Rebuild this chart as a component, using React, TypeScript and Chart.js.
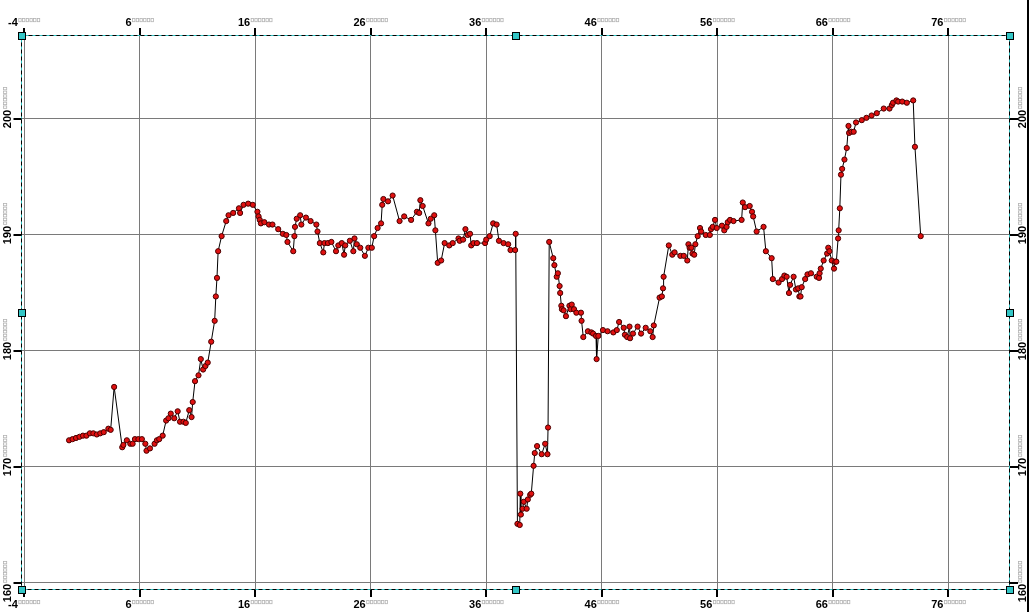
import React, { useEffect, useRef } from "react";
import { Chart, registerables } from "chart.js";

Chart.register(...registerables);

const X_VALUES: number[] = [
  -0.1, 0.2, 0.5, 0.8, 1.1, 1.4, 1.7, 2.0, 2.3, 2.6, 2.9, 3.3, 3.5, 3.8, 4.5, 4.6, 4.9, 5.2, 5.4, 5.6,
  5.9, 6.2, 6.5, 6.6, 6.9, 7.3, 7.5, 7.7, 8.0, 8.3, 8.5, 8.7, 9.0, 9.3, 9.5, 9.8, 10.0, 10.3, 10.5, 10.6,
  10.8, 11.1, 11.3, 11.5, 11.7, 11.9, 12.2, 12.5, 12.6, 12.7, 12.8, 13.1, 13.5, 13.7, 14.1, 14.6, 14.7, 15.0, 15.4, 15.8,
  16.2, 16.3, 16.4, 16.5, 16.8, 17.2, 17.5, 18.0, 18.4, 18.7, 18.8, 19.3, 19.4, 19.45, 19.6, 19.9, 20.0, 20.4, 20.8, 21.3,
  21.4, 21.6, 21.9, 22.0, 22.3, 22.6, 23.0, 23.2, 23.5, 23.7, 23.8, 24.2, 24.5, 24.6, 24.8, 25.1, 25.5, 25.8, 26.1, 26.3,
  26.6, 26.9, 27.0, 27.1, 27.5, 27.9, 28.5, 28.9, 29.5, 30.0, 30.2, 30.3, 30.5, 31.0, 31.2, 31.5, 31.6, 31.8, 32.1, 32.4,
  32.8, 33.1, 33.6, 33.7, 34.0, 34.2, 34.4, 34.6, 34.7, 34.9, 35.2, 35.9, 36.0, 36.3, 36.6, 36.9, 37.1, 37.5, 37.9, 38.1,
  38.5, 38.55, 38.7, 38.9, 38.95, 39.0, 39.15, 39.25, 39.5, 39.6, 39.8, 39.9, 40.1, 40.2, 40.4, 40.8, 41.1, 41.3, 41.35, 41.45,
  41.8, 41.9, 42.1, 42.2, 42.35, 42.4, 42.5, 42.55, 42.7, 42.9, 43.2, 43.3, 43.4, 43.6, 43.8, 44.2, 44.25, 44.4, 44.8, 45.1,
  45.25, 45.5, 45.55, 45.7, 46.1, 46.5, 47.0, 47.3, 47.5, 47.9, 48.0, 48.2, 48.4, 48.45, 48.7, 49.1, 49.4, 49.8, 50.2, 50.4,
  50.5, 51.0, 51.2, 51.3, 51.35, 51.8, 52.1, 52.3, 52.8, 53.1, 53.4, 53.5, 53.6, 53.75, 53.85, 54.0, 54.1, 54.3, 54.5, 54.6,
  55.0, 55.35, 55.45, 55.6, 55.8, 55.95, 56.4, 56.6, 56.8, 56.9, 57.1, 57.4, 58.1, 58.2, 58.4, 58.8, 59.0, 59.1, 59.4, 60.0,
  60.2, 60.7, 60.8, 61.3, 61.6, 61.8, 62.0, 62.2, 62.3, 62.6, 62.8, 63.0, 63.1, 63.2, 63.3, 63.6, 63.8, 64.1, 64.6, 64.8,
  64.85, 64.95, 65.2, 65.5, 65.6, 65.7, 65.9, 66.1, 66.2, 66.3, 66.45, 66.5, 66.6, 66.7, 66.8, 67.0, 67.2, 67.35, 67.4, 67.6,
  67.8, 68.0, 68.5, 68.9, 69.35, 69.8, 70.4, 70.9, 71.1, 71.2, 71.5, 71.65, 72.0, 72.4, 72.95, 73.1, 73.6,
];

const Y_VALUES: number[] = [
  172.3, 172.4, 172.5, 172.6, 172.7, 172.7, 172.9, 172.9, 172.8, 172.9, 173.0, 173.3, 173.2, 176.9, 171.7, 171.9, 172.3, 172.0, 172.0, 172.4,
  172.4, 172.4, 172.0, 171.4, 171.6, 172.0, 172.3, 172.4, 172.7, 174.0, 174.2, 174.6, 174.2, 174.8, 173.9, 173.9, 173.8, 174.9, 174.3, 175.6,
  177.4, 177.9, 179.3, 178.4, 178.7, 179.0, 180.8, 182.6, 184.7, 186.3, 188.6, 189.9, 191.2, 191.7, 191.9, 192.3, 191.9, 192.6, 192.7, 192.6,
  192.0, 191.6, 191.3, 191.0, 191.1, 190.9, 190.9, 190.5, 190.1, 190.0, 189.4, 188.6, 189.9, 190.7, 191.4, 191.7, 190.9, 191.5, 191.2, 190.9,
  190.3, 189.3, 188.5, 189.3, 189.3, 189.4, 188.6, 189.1, 189.3, 188.3, 189.1, 189.5, 188.6, 189.7, 189.2, 188.9, 188.2, 188.9, 188.9, 189.9,
  190.6, 191.0, 192.6, 193.1, 192.9, 193.4, 191.2, 191.6, 191.3, 192.0, 191.9, 193.0, 192.5, 191.0, 191.4, 191.7, 190.4, 187.6, 187.8, 189.3,
  189.1, 189.3, 189.7, 189.5, 189.6, 190.5, 190.0, 190.1, 189.1, 189.3, 189.3, 189.3, 189.6, 189.9, 191.0, 190.9, 189.5, 189.3, 189.2, 188.7,
  188.7, 190.1, 165.1, 165.0, 167.7, 165.9, 166.4, 167.0, 166.4, 167.2, 167.6, 167.7, 170.1, 171.2, 171.8, 171.1, 172.0, 171.1, 173.4, 189.4,
  188.0, 187.4, 186.4, 186.7, 185.6, 185.0, 183.9, 183.6, 183.5, 183.0, 183.9, 183.6, 184.0, 183.6, 183.3, 183.3, 182.6, 181.2, 181.7, 181.6,
  181.5, 181.3, 179.3, 181.3, 181.8, 181.7, 181.6, 181.8, 182.5, 182.0, 181.4, 181.2, 182.1, 181.1, 181.5, 182.1, 181.5, 182.0, 181.7, 181.2,
  182.2, 184.6, 184.7, 185.4, 186.4, 189.1, 188.3, 188.5, 188.2, 188.2, 187.8, 189.2, 188.9, 188.9, 188.4, 188.3, 189.2, 189.9, 190.6, 190.3,
  190.0, 190.0, 190.5, 190.7, 191.3, 190.6, 190.8, 190.4, 190.7, 191.1, 191.3, 191.2, 191.3, 192.8, 192.4, 192.5, 192.0, 191.6, 190.3, 190.7,
  188.6, 188.0, 186.2, 185.9, 186.2, 186.5, 186.4, 185.0, 185.7, 186.4, 185.3, 185.4, 184.7, 184.7, 185.5, 186.2, 186.6, 186.7, 186.4, 186.3,
  186.7, 187.1, 187.8, 188.4, 188.9, 188.6, 187.8, 187.1, 187.7, 187.7, 189.7, 190.4, 192.3, 195.2, 195.7, 196.5, 197.5, 199.4, 198.8, 198.9,
  198.9, 199.7, 199.9, 200.1, 200.3, 200.5, 200.9, 200.9, 201.2, 201.4, 201.6, 201.5, 201.5, 201.4, 201.6, 197.6, 189.9,
];

const X_TICKS: number[] = [-4, 6, 16, 26, 36, 46, 56, 66, 76];
const Y_TICKS: number[] = [160, 170, 180, 190, 200];
const X_MIN = -4.26;
const X_MAX = 81.24;
const Y_MIN = 159.48;
const Y_MAX = 207.24;

const LABEL_FONT = "bold 11px 'Liberation Sans', Arial, sans-serif";
const TOFU_COUNT = 6;
const TOFU_PITCH = 3.7;

function drawTofu(ctx: CanvasRenderingContext2D, x0: number, yTop: number) {
  ctx.save();
  ctx.strokeStyle = "#b4b4b4";
  ctx.lineWidth = 0.8;
  for (let i = 0; i < TOFU_COUNT; i++) {
    ctx.strokeRect(x0 + i * TOFU_PITCH + 0.5, yTop + 0.5, 2.4, 3.2);
  }
  ctx.restore();
}

const decorPlugin = {
  id: "decor",
  afterDraw(chart: any) {
    const { ctx, chartArea: a, scales } = chart;
    const xs = scales.x;
    const ys = scales.y;
    ctx.save();

    // dashed selection frame
    const L = Math.round(a.left) + 0.5;
    const T = Math.round(a.top) + 0.5;
    const R = Math.round(a.right) + 0.5;
    const B = Math.round(a.bottom) + 0.5;
    ctx.lineWidth = 1;
    ctx.strokeStyle = "#33c4c4";
    ctx.setLineDash([]);
    ctx.strokeRect(L, T, R - L, B - T);
    ctx.strokeStyle = "#000";
    ctx.setLineDash([4, 3]);
    ctx.strokeRect(L, T, R - L, B - T);
    ctx.setLineDash([]);

    // tick marks
    ctx.fillStyle = "#000";
    for (const v of X_TICKS) {
      const px = Math.round(xs.getPixelForValue(v));
      ctx.fillRect(px - 1, T - 7.5, 2, 7);
      ctx.fillRect(px - 1, B + 0.5, 2, 7);
    }
    for (const v of Y_TICKS) {
      const py = Math.round(ys.getPixelForValue(v));
      ctx.fillRect(L - 8, py - 1, 8, 2);
      ctx.fillRect(R + 0.5, py - 1, 8, 2);
    }

    // horizontal labels (top & bottom)
    ctx.font = LABEL_FONT;
    ctx.textBaseline = "alphabetic";
    ctx.textAlign = "left";
    const tofuW = TOFU_COUNT * TOFU_PITCH;
    for (const v of X_TICKS) {
      const px = xs.getPixelForValue(v);
      const txt = String(v);
      const w = ctx.measureText(txt).width;
      const x0 = px - (w + tofuW) / 2;
      ctx.fillStyle = "#000";
      ctx.fillText(txt, x0, 26);
      drawTofu(ctx, x0 + w + 0.5, 18);
      ctx.fillStyle = "#000";
      ctx.fillText(txt, x0, 608);
      drawTofu(ctx, x0 + w + 0.5, 600);
    }

    // vertical labels (left & right), rotated
    for (const v of Y_TICKS) {
      let py = ys.getPixelForValue(v);
      if (v === Y_TICKS[0]) py += 10;
      const txt = String(v);
      for (const bx of [11, 1026]) {
        ctx.save();
        ctx.translate(bx, py);
        ctx.rotate(-Math.PI / 2);
        const w = ctx.measureText(txt).width;
        ctx.fillStyle = "#000";
        ctx.fillText(txt, -w / 2, 0);
        drawTofu(ctx, w / 2 + 1, -8);
        ctx.restore();
      }
    }

    // selection handles
    const cx = (L + R) / 2;
    const cy = (T + B) / 2;
    const handles = [
      [L, T], [cx, T], [R, T],
      [L, cy], [R, cy],
      [L, B], [cx, B], [R, B],
    ];
    for (const [hx, hy] of handles) {
      const x = Math.round(hx - 3.5) + 0.5;
      const y = Math.round(hy - 3.5) + 0.5;
      ctx.fillStyle = "#33c6c6";
      ctx.fillRect(x, y, 7, 7);
      ctx.strokeStyle = "#000";
      ctx.lineWidth = 1;
      ctx.strokeRect(x, y, 7, 7);
    }

    // right border line
    ctx.fillStyle = "#000";
    ctx.fillRect(1027, 0, 2, 612);

    ctx.restore();
  },
};

export default function App() {
  const canvasRef = useRef<HTMLCanvasElement | null>(null);

  useEffect(() => {
    document.body.style.margin = "0";
    document.body.style.background = "#fff";
    const canvas = canvasRef.current;
    if (!canvas) return;
    const points = X_VALUES.map((x, i) => ({ x, y: Y_VALUES[i] }));
    const chart = new Chart(canvas, {
      type: "line",
      data: {
        datasets: [
          {
            data: points,
            borderColor: "#000",
            borderWidth: 1,
            tension: 0,
            fill: false,
            pointRadius: 2.6,
            pointBackgroundColor: "#e01010",
            pointBorderColor: "#4a0000",
            pointBorderWidth: 1,
          },
        ],
      },
      options: {
        animation: false,
        responsive: false,
        events: [],
        layout: { padding: { left: 21, top: 35, right: 23, bottom: 23 } },
        plugins: {
          legend: { display: false },
          tooltip: { enabled: false },
        },
        scales: {
          x: {
            type: "linear",
            min: X_MIN,
            max: X_MAX,
            afterBuildTicks: (scale: any) => {
              scale.ticks = X_TICKS.map((v) => ({ value: v }));
            },
            ticks: { display: false, padding: 0 },
            grid: { color: "#7a7a7a", lineWidth: 1, drawTicks: false },
            border: { display: false },
          },
          y: {
            type: "linear",
            min: Y_MIN,
            max: Y_MAX,
            afterBuildTicks: (scale: any) => {
              scale.ticks = Y_TICKS.map((v) => ({ value: v }));
            },
            ticks: { display: false, padding: 0 },
            grid: { color: "#7a7a7a", lineWidth: 1, drawTicks: false },
            border: { display: false },
          },
        },
      },
      plugins: [decorPlugin],
    });
    return () => chart.destroy();
  }, []);

  return (
    <div style={{ position: "fixed", left: 0, top: 0, width: 1032, height: 612, background: "#fff" }}>
      <canvas ref={canvasRef} width={1032} height={612} style={{ display: "block" }} />
    </div>
  );
}
